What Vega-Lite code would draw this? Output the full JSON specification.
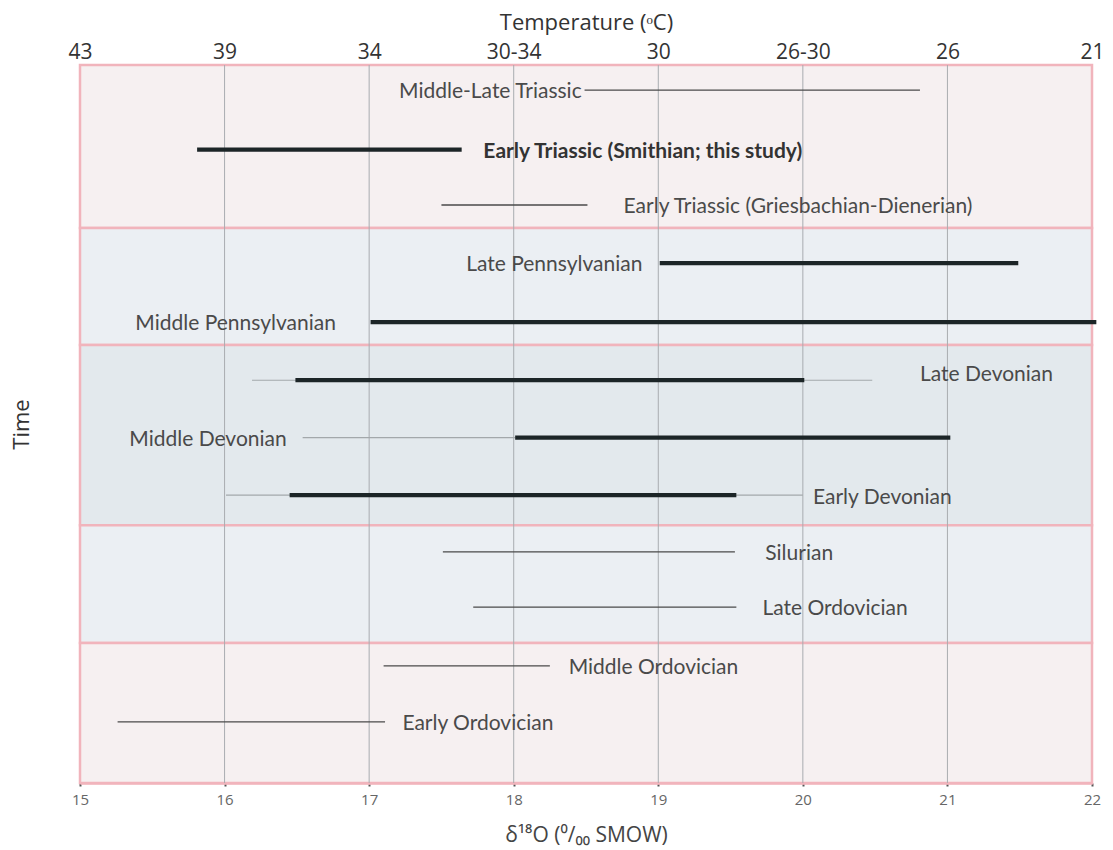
{
  "$schema": "https://vega.github.io/schema/vega-lite/v6.json",
  "autosize": "none",
  "width": 1012,
  "height": 718,
  "padding": {"left": 80, "top": 65, "right": 21, "bottom": 67},
  "background": "white",
  "config": {"view": {"stroke": null}},
  "datasets": {
    "bands": [
      {"band": "Triassic", "top": 0, "bottom": 22.7, "tone": "pink"},
      {"band": "Pennsylvanian", "top": 22.7, "bottom": 39.0, "tone": "blue"},
      {"band": "Devonian", "top": 39.0, "bottom": 64.1, "tone": "slate"},
      {"band": "Silurian-Late Ordovician", "top": 64.1, "bottom": 80.5, "tone": "blue"},
      {"band": "Early-Middle Ordovician", "top": 80.5, "bottom": 100, "tone": "pink"}
    ],
    "grid": [{"v": 16}, {"v": 17}, {"v": 18}, {"v": 19}, {"v": 20}, {"v": 21}],
    "segments": [
      {"period": "Middle-Late Triassic", "row": 3.5, "lo": 18.49, "hi": 20.81, "kind": "thin"},
      {"period": "Early Triassic (Smithian; this study)", "row": 11.8, "lo": 15.81, "hi": 17.64, "kind": "thick"},
      {"period": "Early Triassic (Griesbachian-Dienerian)", "row": 19.5, "lo": 17.5, "hi": 18.51, "kind": "thin"},
      {"period": "Late Pennsylvanian", "row": 27.6, "lo": 19.01, "hi": 21.49, "kind": "thick"},
      {"period": "Middle Pennsylvanian", "row": 35.8, "lo": 17.01, "hi": 22.03, "kind": "thick"},
      {"period": "Late Devonian", "row": 43.9, "lo": 16.19, "hi": 20.48, "kind": "faint"},
      {"period": "Late Devonian", "row": 43.9, "lo": 16.49, "hi": 20.01, "kind": "thick"},
      {"period": "Middle Devonian", "row": 51.9, "lo": 16.54, "hi": 18.01, "kind": "faint"},
      {"period": "Middle Devonian", "row": 51.9, "lo": 18.01, "hi": 21.02, "kind": "thick"},
      {"period": "Early Devonian", "row": 59.9, "lo": 16.01, "hi": 20.0, "kind": "faint"},
      {"period": "Early Devonian", "row": 59.9, "lo": 16.45, "hi": 19.54, "kind": "thick"},
      {"period": "Silurian", "row": 67.8, "lo": 17.51, "hi": 19.53, "kind": "thin"},
      {"period": "Late Ordovician", "row": 75.5, "lo": 17.72, "hi": 19.54, "kind": "thin"},
      {"period": "Middle Ordovician", "row": 83.7, "lo": 17.1, "hi": 18.25, "kind": "thin"},
      {"period": "Early Ordovician", "row": 91.5, "lo": 15.26, "hi": 17.11, "kind": "thin"}
    ],
    "labels": [
      {"period": "Middle-Late Triassic", "row": 3.5, "at": 18.47, "side": "left", "study": false},
      {"period": "Early Triassic (Smithian; this study)", "row": 11.8, "at": 17.79, "side": "right", "study": true},
      {"period": "Early Triassic (Griesbachian-Dienerian)", "row": 19.5, "at": 18.76, "side": "right", "study": false},
      {"period": "Late Pennsylvanian", "row": 27.6, "at": 18.89, "side": "left", "study": false},
      {"period": "Middle Pennsylvanian", "row": 35.8, "at": 16.77, "side": "left", "study": false},
      {"period": "Late Devonian", "row": 42.9, "at": 20.81, "side": "right", "study": false},
      {"period": "Middle Devonian", "row": 51.9, "at": 16.43, "side": "left", "study": false},
      {"period": "Early Devonian", "row": 60.0, "at": 20.07, "side": "right", "study": false},
      {"period": "Silurian", "row": 67.8, "at": 19.74, "side": "right", "study": false},
      {"period": "Late Ordovician", "row": 75.5, "at": 19.72, "side": "right", "study": false},
      {"period": "Middle Ordovician", "row": 83.7, "at": 18.38, "side": "right", "study": false},
      {"period": "Early Ordovician", "row": 91.5, "at": 17.23, "side": "right", "study": false}
    ]
  },
  "resolve": {"axis": {"x": "independent"}, "scale": {"color": "independent"}},
  "layer": [
    {
      "data": {"name": "bands"},
      "mark": {"type": "rect", "stroke": "#f1b4bc", "strokeWidth": 2.5},
      "encoding": {
        "x": {"datum": 15, "type": "quantitative", "scale": {"domain": [15, 22], "nice": false, "zero": false},
          "axis": {"orient": "bottom", "title": "δ¹⁸O (⁰/₀₀ SMOW)", "values": [15, 15.5, 16, 16.5, 17, 17.5, 18, 18.5, 19, 19.5, 20, 20.5, 21, 21.5, 22],
            "format": "d", "labelExpr": "datum.value % 1 == 0 ? datum.label : ''", "grid": false,
            "domainColor": "#f1b4bc", "domainWidth": 2.5, "tickColor": "#555", "tickSize": 3, "tickWidth": 2,
            "labelFont": "Open Sans", "labelFontSize": 15, "labelColor": "#666", "labelPadding": 6, "labelFlush": false,
            "titleFont": "Open Sans", "titleFontSize": 21, "titleFontWeight": "normal", "titleColor": "#444", "titlePadding": 17}},
        "x2": {"datum": 22},
        "y": {"field": "top", "type": "quantitative", "scale": {"domain": [0, 100], "reverse": true, "nice": false},
          "axis": {"title": "Time", "labels": false, "ticks": false, "domain": false, "grid": false,
            "titleFont": "Open Sans", "titleFontSize": 22, "titleFontWeight": "normal", "titleColor": "#333", "titlePadding": 47}},
        "y2": {"field": "bottom"},
        "fill": {"field": "tone", "type": "nominal", "scale": {"domain": ["pink", "blue", "slate"], "range": ["#f6f0f1", "#ebeff3", "#e3e9ed"]}, "legend": null}
      }
    },
    {
      "data": {"name": "grid"},
      "mark": {"type": "rule", "color": "#a9acb0", "strokeWidth": 1},
      "encoding": {
        "x": {"field": "v", "type": "quantitative",
          "axis": {"orient": "top", "title": "Temperature (ᵒC)", "values": [15, 16, 17, 18, 19, 20, 21, 22],
            "labelExpr": "datum.value == 15 ? '43' : datum.value == 16 ? '39' : datum.value == 17 ? '34' : datum.value == 18 ? '30-34' : datum.value == 19 ? '30' : datum.value == 20 ? '26-30' : datum.value == 21 ? '26' : '21'",
            "grid": false, "ticks": false, "tickSize": 0, "domainColor": "#f1b4bc", "domainWidth": 2.5, "labelFlush": false,
            "labelFont": "Open Sans", "labelFontSize": 21, "labelColor": "#333", "labelPadding": 3,
            "titleFont": "Open Sans", "titleFontSize": 22, "titleFontWeight": "normal", "titleColor": "#333", "titlePadding": 7}},
        "y": {"datum": 0, "type": "quantitative"},
        "y2": {"datum": 100}
      }
    },
    {
      "data": {"name": "segments"},
      "transform": [{"filter": "datum.kind == 'faint'"}],
      "mark": {"type": "rule", "color": "#a3a8ab", "strokeWidth": 1.1},
      "encoding": {
        "x": {"field": "lo", "type": "quantitative", "axis": null},
        "x2": {"field": "hi"},
        "y": {"field": "row", "type": "quantitative"}
      }
    },
    {
      "data": {"name": "segments"},
      "transform": [{"filter": "datum.kind == 'thin'"}],
      "mark": {"type": "rule", "color": "#4a4a4a", "strokeWidth": 1.3},
      "encoding": {
        "x": {"field": "lo", "type": "quantitative", "axis": null},
        "x2": {"field": "hi"},
        "y": {"field": "row", "type": "quantitative"}
      }
    },
    {
      "data": {"name": "segments"},
      "transform": [{"filter": "datum.kind == 'thick'"}],
      "mark": {"type": "rule", "color": "#1c2527", "strokeWidth": 4.2},
      "encoding": {
        "x": {"field": "lo", "type": "quantitative", "axis": null},
        "x2": {"field": "hi"},
        "y": {"field": "row", "type": "quantitative"}
      }
    },
    {
      "data": {"name": "labels"},
      "transform": [{"filter": "datum.side == 'left' && !datum.study"}],
      "mark": {"type": "text", "align": "right", "baseline": "middle", "dy": 2, "font": "Lato", "fontSize": 21, "color": "#4a4a4a"},
      "encoding": {
        "x": {"field": "at", "type": "quantitative", "axis": null},
        "y": {"field": "row", "type": "quantitative"},
        "text": {"field": "period"}
      }
    },
    {
      "data": {"name": "labels"},
      "transform": [{"filter": "datum.side == 'right' && !datum.study"}],
      "mark": {"type": "text", "align": "left", "baseline": "middle", "dy": 2, "font": "Lato", "fontSize": 21, "color": "#4a4a4a"},
      "encoding": {
        "x": {"field": "at", "type": "quantitative", "axis": null},
        "y": {"field": "row", "type": "quantitative"},
        "text": {"field": "period"}
      }
    },
    {
      "data": {"name": "labels"},
      "transform": [{"filter": "datum.study"}],
      "mark": {"type": "text", "align": "left", "baseline": "middle", "dy": 2, "font": "Lato", "fontSize": 21, "fontWeight": "bold", "color": "#333"},
      "encoding": {
        "x": {"field": "at", "type": "quantitative", "axis": null},
        "y": {"field": "row", "type": "quantitative"},
        "text": {"field": "period"}
      }
    }
  ]
}
